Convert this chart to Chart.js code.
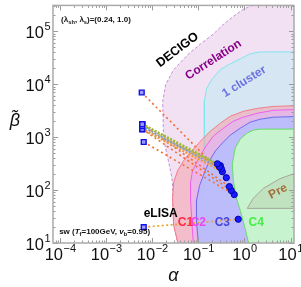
<!DOCTYPE html>
<html>
<head>
<meta charset="utf-8">
<script src="https://cdn.jsdelivr.net/npm/chart.js@4/dist/chart.umd.min.js"></script>
<style>
html, body { margin: 0; padding: 0; background: #fff; }
#wrap { width: 301px; height: 287px; }
</style>
</head>
<body>
<div id="wrap"><canvas id="gw_chart"></canvas></div>
<script>
// axis ranges (alpha, beta)
var xMin = 7.4e-5, xMax = 11.9;
var yMin = 10, yMax = 3.06e5;
var xTickExp = [-4, -3, -2, -1, 0, 1];
var yTickExp = [1, 2, 3, 4, 5];

// sensitivity regions, boundary points in (alpha, beta)
var corrAlpha = [2.3, 1.89, 0.942, 0.546, 0.332, 0.212, 0.111, 0.0582, 0.0290, 0.0195, 0.0168, 0.0176, 0.0249, 0.0276, 0.0276, 0.0290, 0.037, 20, 20];
var corrBeta  = [4e5, 3.33e5, 2.58e5, 1.83e5, 1.29e5, 8.8e4, 5.72e4, 3.56e4, 1.87e4, 9800, 4710, 918, 231, 138, 63.6, 21.7, 9, 9, 4e5];

var clusterAlpha = [20, 2.19, 1.33, 0.811, 0.493, 0.300, 0.202, 0.150, 0.135, 0.135, 20];
var clusterBeta  = [40500, 40500, 37200, 30000, 24200, 18700, 12700, 8250, 4710, 60.9, 60.9];

var c1Alpha = [20, 4.19, 1.89, 0.942, 0.493, 0.300, 0.182, 0.123, 0.0784, 0.0476, 0.0354, 0.0290, 0.0276, 0.0290, 0.037, 20];
var c1Beta  = [3960, 3790, 3480, 3060, 2470, 1830, 1290, 918, 597, 356, 231, 138, 69.3, 21.7, 9, 9];

var c2Alpha = [20, 4.19, 1.89, 0.942, 0.573, 0.348, 0.212, 0.142, 0.0957, 0.0746, 0.0675, 0.0675, 0.0746, 0.0784, 20];
var c2Beta  = [3340, 3200, 2810, 2370, 1990, 1470, 1045, 650, 356, 231, 138, 69.3, 16.1, 9, 9];

var c3Alpha = [20, 4.19, 2.19, 1.33, 0.811, 0.493, 0.332, 0.234, 0.174, 0.135, 0.106, 0.091, 0.091, 0.1005, 20];
var c3Beta  = [2470, 2370, 2170, 1910, 1470, 1090, 772, 547, 356, 212, 121, 63.6, 26.9, 9, 9];

var c4Alpha = [20, 2.19, 1.55, 1.15, 0.811, 0.632, 0.546, 0.573, 0.665, 0.811, 0.99, 1.27, 20];
var c4Beta  = [1413, 1413, 1352, 1190, 918, 622, 313, 151, 72.4, 41.4, 21.7, 9, 9];

var preAlpha = [1.15, 1.55, 2.55, 5.93, 20, 20, 1.15];
var preBeta  = [45.1, 69.3, 107, 164, 240, 45.1, 45.1];

// benchmark tracks: start (square) -> end (circle)
var bundleFrom = [[0.00605, 1750], [0.00605, 1750], [0.00605, 1600], [0.00605, 1413], [0.00605, 1413]];
var bundleTo   = [[0.259, 313], [0.286, 275], [0.316, 252], [0.332, 222], [0.300, 290]];
var orangeFrom = [[0.0059, 6935], [0.00605, 1750], [0.00605, 1413], [0.00652, 807]];
var orangeTo   = [[0.405, 171], [0.470, 116], [0.519, 98], [0.602, 82]];
var lisaFrom = [0.00652, 19.9];
var lisaTo   = [0.734, 28.1];

var bundleColors = ['#9cb83a', '#e8b23a', '#7a9fd6', '#f09a40', '#b0a880'];

function zip(xs, ys) {
    return xs.map(function (x, i) { return {x: x, y: ys[i]}; });
}

function region(xs, ys, fillColor, lineColor, dash, order) {
    return {
        data: zip(xs, ys),
        fill: 'shape',
        backgroundColor: fillColor,
        borderColor: lineColor,
        borderWidth: 1,
        borderDash: dash,
        pointRadius: 0,
        tension: 0,
        order: order
    };
}

function track(from, to, color, width, dash, order) {
    return {
        data: [{x: from[0], y: from[1]}, {x: to[0], y: to[1]}],
        borderColor: color,
        borderWidth: width,
        borderDash: dash,
        fill: false,
        pointStyle: ['rect', 'circle'],
        pointRadius: [3.4, 3.1],
        pointBackgroundColor: ['#9a9aff', '#1a1aff'],
        pointBorderColor: ['#1010e0', '#0000b0'],
        pointBorderWidth: [1.4, 1],
        order: order
    };
}

var datasets = [
    region(corrAlpha, corrBeta, 'rgb(242,224,243)', '#c98bd6', [3, 2], 100),
    region(clusterAlpha, clusterBeta, 'rgb(214,230,243)', '#7fe6ef', [], 90),
    region(c1Alpha, c1Beta, 'rgba(245,160,170,0.55)', '#f27d88', [], 80),
    region(c2Alpha, c2Beta, 'rgba(228,175,255,0.55)', '#ec60ec', [], 70),
    region(c3Alpha, c3Beta, 'rgba(178,190,255,0.8)', '#6c6cec', [], 60),
    region(c4Alpha, c4Beta, 'rgba(202,250,200,0.88)', '#66dd66', [], 50),
    region(preAlpha, preBeta, 'rgba(150,135,95,0.15)', '#a5a59a', [], 45)
];
orangeFrom.forEach(function (p, i) {
    datasets.push(track(p, orangeTo[i], 'rgb(240,110,50)', 1.6, [2, 3], 20 + i));
});
bundleFrom.forEach(function (p, i) {
    datasets.push(track(p, bundleTo[i], bundleColors[i], 2.4, [2, 1.5], 10 + i));
});
datasets.push(track(lisaFrom, lisaTo, 'rgb(240,160,40)', 1.6, [2, 2.5], 5));

// text notes placed in data coordinates
var notes = [
    {t: 'DECIGO', a: 0.0354, b: 44200, rot: -37, color: '#000', font: 'bold 12.5px "Liberation Sans"'},
    {t: 'Correlation', a: 0.212, b: 28700, rot: -33, color: '#880088', font: 'bold 12px "Liberation Sans"'},
    {t: '1 cluster', a: 0.99, b: 11100, rot: -32, color: '#6c72e2', font: 'bold 12px "Liberation Sans"'},
    {t: 'Pre', a: 5.37, b: 93.8, rot: -28, color: '#a2703e', font: 'bold 12px "Liberation Sans"'},
    {t: 'eLISA', a: 0.0152, b: 36.4, rot: 0, color: '#000', font: 'bold 12px "Liberation Sans"'},
    {t: 'C1', a: 0.0526, b: 23.7, rot: 0, color: '#ff2a4a', font: 'bold 12px "Liberation Sans"'},
    {t: 'C2', a: 0.100, b: 23.7, rot: 0, color: '#ee44ee', font: 'bold 12px "Liberation Sans"'},
    {t: 'C3', a: 0.332, b: 23.7, rot: 0, color: '#4646dd', font: 'bold 12px "Liberation Sans"'},
    {t: 'C4', a: 1.80, b: 23.7, rot: 0, color: '#44ee44', font: 'bold 12px "Liberation Sans"'}
];

function drawRich(ctx, parts, x, y, size) {
    parts.forEach(function (p) {
        var sub = p[1].indexOf('s') >= 0;
        var it = p[1].indexOf('i') >= 0;
        var fs = sub ? size * 0.72 : size;
        ctx.font = (it ? 'italic ' : '') + 'bold ' + fs + 'px "Liberation Sans"';
        ctx.fillText(p[0], x, sub ? y + size * 0.25 : y);
        x += ctx.measureText(p[0]).width;
    });
}

function drawPow(ctx, exp, x, y, align) {
    var big = '16.5px "Liberation Sans"', small = '11px "Liberation Sans"';
    var e = exp < 0 ? '\u2212' + (-exp) : String(exp);
    ctx.font = big; var w1 = ctx.measureText('10').width;
    ctx.font = small; var w2 = ctx.measureText(e).width;
    var x0 = align === 'right' ? x - w1 - w2 : x - (w1 + w2) / 2;
    ctx.textAlign = 'left';
    ctx.font = big; ctx.fillText('10', x0, y);
    ctx.font = small; ctx.fillText(e, x0 + w1 + 0.5, y - 8);
}

var framePlugin = {
    id: 'frame',
    afterDraw: function (chart) {
        var ctx = chart.ctx, a = chart.chartArea;
        var xs = chart.scales.x, ys = chart.scales.y;
        ctx.save();
        ctx.textBaseline = 'alphabetic';

        notes.forEach(function (n) {
            ctx.save();
            ctx.translate(xs.getPixelForValue(n.a), ys.getPixelForValue(n.b));
            ctx.rotate(n.rot * Math.PI / 180);
            ctx.font = n.font; ctx.fillStyle = n.color;
            ctx.textAlign = 'center'; ctx.textBaseline = 'middle';
            ctx.fillText(n.t, 0, 0);
            ctx.restore();
        });

        ctx.fillStyle = '#111';
        ctx.textAlign = 'left';
        drawRich(ctx, [['(\u03bb', ''], ['sh', 's'], [', \u03bb', ''], ['s', 's'], [')=(0.24, 1.0)', '']],
            xs.getPixelForValue(1.05e-4), ys.getPixelForValue(147000), 8);
        drawRich(ctx, [['sw (', ''], ['T', 'i'], ['f', 's'], ['=100GeV, ', ''], ['v', 'i'], ['b', 's'], ['=0.95)', '']],
            xs.getPixelForValue(0.952e-4), ys.getPixelForValue(14.7), 8);

        // ticks
        ctx.strokeStyle = '#9a9a9a'; ctx.lineWidth = 1;
        ctx.beginPath();
        for (var e = -5; e <= 5; e++) {
            for (var m = 1; m < 10; m++) {
                var v = m * Math.pow(10, e);
                var len = m === 1 ? 5 : 2.5;
                if (v >= xMin && v <= xMax) {
                    var px = Math.round(xs.getPixelForValue(v)) + 0.5;
                    ctx.moveTo(px, a.bottom); ctx.lineTo(px, a.bottom - len);
                    ctx.moveTo(px, a.top); ctx.lineTo(px, a.top + len);
                }
                if (v >= yMin && v <= yMax) {
                    var py = Math.round(ys.getPixelForValue(v)) + 0.5;
                    ctx.moveTo(a.left, py); ctx.lineTo(a.left + len, py);
                    ctx.moveTo(a.right, py); ctx.lineTo(a.right - len, py);
                }
            }
        }
        ctx.stroke();

        ctx.strokeStyle = '#aaaaaa'; ctx.lineWidth = 1.5;
        ctx.strokeRect(a.left, a.top, a.right - a.left, a.bottom - a.top);

        // tick labels
        ctx.fillStyle = '#111';
        xTickExp.forEach(function (k) {
            drawPow(ctx, k, xs.getPixelForValue(Math.pow(10, k)), a.bottom + 17, 'center');
        });
        yTickExp.forEach(function (k) {
            drawPow(ctx, k, a.left - 3, ys.getPixelForValue(Math.pow(10, k)) + 7, 'right');
        });

        // axis titles
        ctx.font = 'italic 18px "Liberation Sans"';
        ctx.textAlign = 'center';
        ctx.fillText('\u03b1', (a.left + a.right) / 2, a.bottom + 38);
        ctx.fillText('\u03b2\u0303', 15, 126);
        ctx.restore();
    }
};

var gw_ctx = document.getElementById('gw_chart').getContext('2d');
var gw_chart = new Chart(gw_ctx, {
    type: 'line',
    data: { datasets: datasets },
    options: {
        responsive: true,
        maintainAspectRatio: false,
        animation: false,
        layout: { padding: { left: 53, right: 7, top: 3, bottom: 44 } },
        plugins: { legend: { display: false }, tooltip: { enabled: false } },
        scales: {
            x: { type: 'logarithmic', min: xMin, max: xMax, display: false },
            y: { type: 'logarithmic', min: yMin, max: yMax, display: false }
        }
    },
    plugins: [framePlugin]
});
</script>
</body>
</html>
